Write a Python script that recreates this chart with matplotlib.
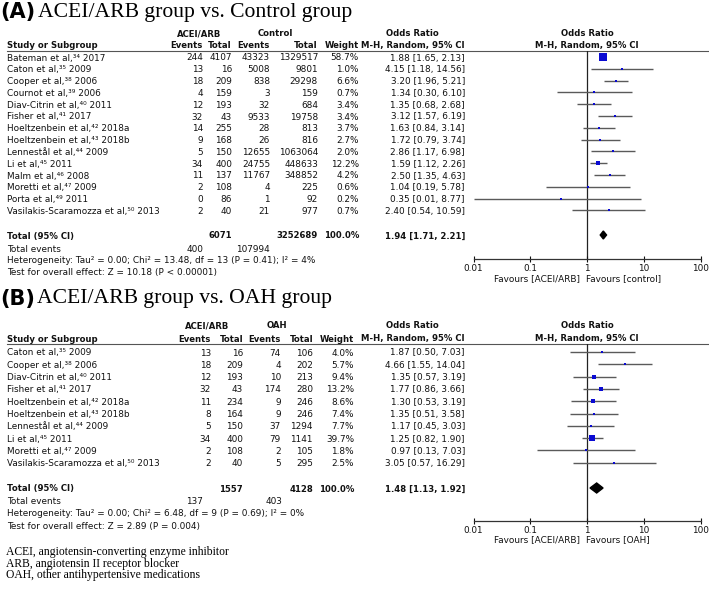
import matplotlib
matplotlib.use('Agg')
import matplotlib.pyplot as plt
from matplotlib.patches import Polygon
import numpy as np

plt.rcParams['font.family'] = ['DejaVu Sans']

# ---------------- data: panel A (ACEI/ARB vs Control) ----------------
A_names = ["Bateman", "Caton", "Cooper", "Cournot", "Diav-Citrin", "Fisher",
           "Hoeltzenbein", "Hoeltzenbein", "Lennestål", "Li", "Malm", "Moretti",
           "Porta", "Vasilakis-Scaramozza"]
A_refs = ["34", "35", "38", "39", "40", "41", "42", "43", "44", "45", "46", "47", "49", "50"]
A_years = ["2017", "2009", "2006", "2006", "2011", "2017", "2018a", "2018b", "2009",
           "2011", "2008", "2009", "2011", "2013"]
A_exp_events = [244, 13, 18, 4, 12, 32, 14, 9, 5, 34, 11, 2, 0, 2]
A_exp_total = [4107, 16, 209, 159, 193, 43, 255, 168, 150, 400, 137, 108, 86, 40]
A_ctl_events = [43323, 5008, 838, 3, 32, 9533, 28, 26, 12655, 24755, 11767, 4, 1, 21]
A_ctl_total = [1329517, 9801, 29298, 159, 684, 19758, 813, 816, 1063064, 448633,
               348852, 225, 92, 977]
A_weight = [58.7, 1.0, 6.6, 0.7, 3.4, 3.4, 3.7, 2.7, 2.0, 12.2, 4.2, 0.6, 0.2, 0.7]
A_or = [1.88, 4.15, 3.20, 1.34, 1.35, 3.12, 1.63, 1.72, 2.86, 1.59, 2.50, 1.04, 0.35, 2.40]
A_lo = [1.65, 1.18, 1.96, 0.30, 0.68, 1.57, 0.84, 0.79, 1.17, 1.12, 1.35, 0.19, 0.01, 0.54]
A_hi = [2.13, 14.56, 5.21, 6.10, 2.68, 6.19, 3.14, 3.74, 6.98, 2.26, 4.63, 5.78, 8.77, 10.59]
A_total_exp = 6071
A_total_ctl = 3252689
A_total_weight = "100.0%"
A_events_exp = 400
A_events_ctl = 107994
A_pooled = [1.94, 1.71, 2.21]
A_het = "Heterogeneity: Tau² = 0.00; Chi² = 13.48, df = 13 (P = 0.41); I² = 4%"
A_test = "Test for overall effect: Z = 10.18 (P < 0.00001)"

# ---------------- data: panel B (ACEI/ARB vs OAH) ----------------
B_names = ["Caton", "Cooper", "Diav-Citrin", "Fisher", "Hoeltzenbein", "Hoeltzenbein",
           "Lennestål", "Li", "Moretti", "Vasilakis-Scaramozza"]
B_refs = ["35", "38", "40", "41", "42", "43", "44", "45", "47", "50"]
B_years = ["2009", "2006", "2011", "2017", "2018a", "2018b", "2009", "2011", "2009", "2013"]
B_exp_events = [13, 18, 12, 32, 11, 8, 5, 34, 2, 2]
B_exp_total = [16, 209, 193, 43, 234, 164, 150, 400, 108, 40]
B_ctl_events = [74, 4, 10, 174, 9, 9, 37, 79, 2, 5]
B_ctl_total = [106, 202, 213, 280, 246, 246, 1294, 1141, 105, 295]
B_weight = [4.0, 5.7, 9.4, 13.2, 8.6, 7.4, 7.7, 39.7, 1.8, 2.5]
B_or = [1.87, 4.66, 1.35, 1.77, 1.30, 1.35, 1.17, 1.25, 0.97, 3.05]
B_lo = [0.50, 1.55, 0.57, 0.86, 0.53, 0.51, 0.45, 0.82, 0.13, 0.57]
B_hi = [7.03, 14.04, 3.19, 3.66, 3.19, 3.58, 3.03, 1.90, 7.03, 16.29]
B_total_exp = 1557
B_total_ctl = 4128
B_total_weight = "100.0%"
B_events_exp = 137
B_events_ctl = 403
B_pooled = [1.48, 1.13, 1.92]
B_het = "Heterogeneity: Tau² = 0.00; Chi² = 6.48, df = 9 (P = 0.69); I² = 0%"
B_test = "Test for overall effect: Z = 2.89 (P = 0.004)"

tick_vals = [0.01, 0.1, 1, 10, 100]
tick_labels = ["0.01", "0.1", "1", "10", "100"]

footnotes = ["ACEI, angiotensin-converting enzyme inhibitor",
             "ARB, angiotensin II receptor blocker",
             "OAH, other antihypertensive medications"]

SUP = str.maketrans("0123456789", "⁰¹²³⁴⁵⁶⁷⁸⁹")

# ---------------- figure ----------------
W, H = 709, 590
fig = plt.figure(figsize=(W / 100, H / 100), dpi=100)
bg = fig.add_axes([0, 0, 1, 1])
bg.set_xlim(0, W)
bg.set_ylim(H, 0)
bg.axis('off')

FS = 6.4
FSB = 6.1
BLUE = '#0a0ad2'


def T(x, y, s, ha='left', bold=False, size=None, **kw):
    bg.text(x, y, s, ha=ha, va='center_baseline',
            fontsize=size if size else (FSB if bold else FS),
            fontweight='bold' if bold else 'normal', color='#111111', **kw)


def panel(letter, title, grp2, favours2, names, refs, years, ee, et, ce, ct, wt,
          orr, lo, hi, tot_e, tot_c, tot_w, ev_e, ev_c, pooled, het, test, L):
    # title
    bg.text(0, L['title_y'], f"({letter})", ha='left', va='center', fontsize=15,
            fontweight='bold', color='black')
    bg.text(L['title_x'], L['title_y'], title, ha='left', va='center', fontsize=15.6,
            family='Liberation Serif', color='black')
    c = L['cols']
    # headers
    T(L['g1c'], L['h1'], "ACEI/ARB", ha='center', bold=True)
    T(L['g2c'], L['h1'], grp2, ha='center', bold=True)
    T(412, L['h1'], "Odds Ratio", ha='center', bold=True)
    T(587, L['h1'], "Odds Ratio", ha='center', bold=True)
    T(7, L['h2'], "Study or Subgroup", bold=True)
    for x, s in zip(c, ["Events", "Total", "Events", "Total", "Weight"]):
        T(x, L['h2'], s, ha='right', bold=True)
    T(465, L['h2'], "M-H, Random, 95% CI", ha='right', bold=True)
    T(587, L['h2'], "M-H, Random, 95% CI", ha='center', bold=True)
    bg.plot([7, 708], [L['line'], L['line']], color='#555555', lw=0.8)
    # rows
    for i in range(len(names)):
        y = L['row0'] + i * L['dy']
        T(7, y, f"{names[i]} et al,{refs[i].translate(SUP)} {years[i]}")
        for x, v in zip(c, [ee[i], et[i], ce[i], ct[i]]):
            T(x, y, f"{v}", ha='right')
        T(c[4], y, f"{wt[i]:.1f}%", ha='right')
        T(465, y, f"{orr[i]:.2f} [{lo[i]:.2f}, {hi[i]:.2f}]", ha='right')
    # totals
    ty = L['total']
    T(7, ty, "Total (95% CI)", bold=True)
    T(c[1], ty, f"{tot_e}", ha='right', bold=True)
    T(c[3], ty, f"{tot_c}", ha='right', bold=True)
    T(c[4], ty, tot_w, ha='right', bold=True)
    T(465, ty, f"{pooled[0]:.2f} [{pooled[1]:.2f}, {pooled[2]:.2f}]", ha='right', bold=True)
    T(7, L['events'], "Total events")
    T(L['ev1'], L['events'], f"{ev_e}", ha='right')
    T(L['ev2'], L['events'], f"{ev_c}", ha='right')
    T(7, L['het'], het)
    T(7, L['test'], test)

    # forest plot
    x0, x1 = 473.5, 700.5
    axf = fig.add_axes([x0 / W, 1 - L['axis'] / H, (x1 - x0) / W, (L['axis'] - L['line']) / H])
    axf.patch.set_alpha(0)
    axf.set_xscale('log')
    axf.set_xlim(0.01, 100)
    axf.set_ylim(L['axis'], L['line'])
    for s in ['top', 'left', 'right']:
        axf.spines[s].set_visible(False)
    axf.spines['bottom'].set_color('#333333')
    axf.spines['bottom'].set_linewidth(0.9)
    axf.set_yticks([])
    axf.set_xticks(tick_vals)
    axf.set_xticklabels(tick_labels)
    axf.minorticks_off()
    axf.tick_params(axis='x', direction='inout', length=4.5, width=0.8, pad=1.2,
                    labelsize=FS, colors='#111111')
    axf.axvline(1, color='#222222', lw=0.9, zorder=1)
    for i in range(len(names)):
        y = L['row0'] + i * L['dy']
        axf.plot([lo[i], hi[i]], [y, y], color='#5a5a5a', lw=1.0, zorder=2,
                 clip_on=False, solid_capstyle='butt')
        side = max(1.05 * np.sqrt(wt[i]), 1.7) * 0.72
        axf.scatter([orr[i]], [y], marker='s', s=side ** 2, color=BLUE,
                    linewidths=0, zorder=3, clip_on=False)
    dh = L['dh']
    axf.add_patch(Polygon([(pooled[1], ty), (pooled[0], ty - dh), (pooled[2], ty),
                           (pooled[0], ty + dh)], closed=True, color='black', zorder=4))
    T(580, L['fav'], "Favours [ACEI/ARB]", ha='right')
    T(586, L['fav'], favours2, ha='left')


LA = dict(title_y=12, title_x=38, h1=33, h2=44.5, line=51, row0=57, dy=11.8,
          total=235, events=248, het=259.5, test=271.5, axis=259, fav=277.5,
          cols=[203, 232, 270, 318, 359], g1c=199, g2c=275, ev1=203, ev2=270, dh=4)
LB = dict(title_y=299, title_x=37, h1=325, h2=338, line=344, row0=352, dy=12.3,
          total=488, events=501, het=513, test=525, axis=521, fav=539,
          cols=[211, 243, 281, 313, 354], g1c=207, g2c=277, ev1=203, ev2=282, dh=5)

panel("A", "ACEI/ARB group vs. Control group", "Control", "Favours [control]",
      A_names, A_refs, A_years, A_exp_events, A_exp_total, A_ctl_events, A_ctl_total,
      A_weight, A_or, A_lo, A_hi, A_total_exp, A_total_ctl, A_total_weight,
      A_events_exp, A_events_ctl, A_pooled, A_het, A_test, LA)
panel("B", "ACEI/ARB group vs. OAH group", "OAH", "Favours [OAH]",
      B_names, B_refs, B_years, B_exp_events, B_exp_total, B_ctl_events, B_ctl_total,
      B_weight, B_or, B_lo, B_hi, B_total_exp, B_total_ctl, B_total_weight,
      B_events_exp, B_events_ctl, B_pooled, B_het, B_test, LB)

for k, s in enumerate(footnotes):
    bg.text(6, 552.5 + k * 11.2, s, ha='left', va='center', fontsize=8.4,
            family='Liberation Serif', color='black')

fig.savefig('out.png', dpi=100)
